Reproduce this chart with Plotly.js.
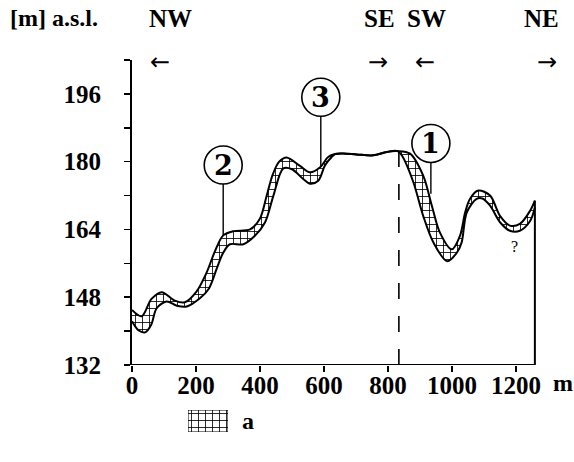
<!DOCTYPE html>
<html>
<head>
<meta charset="utf-8">
<script src="https://cdn.plot.ly/plotly-3.0.1.min.js"></script>
<style>html,body{margin:0;padding:0;background:#fff;}#chart{width:574px;height:462px;}</style>
</head>
<body>
<div id="chart"></div>
<script>
// Distance along profile [m] and elevation [m a.s.l.]
const upperX = [0, 30, 61, 93, 134, 165, 202, 233, 260, 285, 317, 369, 400, 421, 440, 460, 483, 525, 556, 588, 613, 635, 660, 702, 754, 796, 830, 869, 910, 937, 962, 999, 1025, 1041, 1056, 1082, 1119, 1150, 1181, 1212, 1244, 1259];
const upperY = [145.0, 143.5, 147.6, 149.2, 147.2, 146.8, 149.4, 153.8, 159.0, 162.6, 163.6, 164.0, 166.6, 172.0, 177.0, 180.0, 181.0, 179.0, 177.5, 178.7, 181.1, 181.8, 181.9, 181.7, 181.5, 182.3, 182.5, 181.9, 176.7, 169.6, 163.3, 159.3, 162.5, 168.0, 171.2, 173.2, 172.0, 167.2, 164.9, 165.3, 168.4, 170.8];
const lowerX = [0, 20, 41, 60, 77, 108, 140, 171, 213, 240, 265, 285, 306, 348, 384, 416, 442, 473, 500, 535, 556, 582, 603, 624, 635, 660, 702, 754, 796, 830, 843, 879, 910, 942, 985, 1015, 1030, 1046, 1077, 1095, 1119, 1150, 1181, 1212, 1244, 1259];
const lowerY = [142.3, 140.2, 139.7, 141.5, 145.4, 147.0, 146.0, 145.8, 147.8, 150.0, 154.8, 158.5, 160.5, 160.5, 162.5, 165.7, 172.0, 178.4, 178.2, 175.9, 174.8, 175.5, 179.1, 181.1, 181.8, 181.9, 181.7, 181.5, 182.3, 182.5, 181.5, 175.2, 167.2, 160.9, 156.5, 158.5, 160.9, 168.0, 171.2, 171.3, 169.6, 165.7, 163.7, 163.7, 166.0, 169.2];

const xTicks = [0, 200, 400, 600, 800, 1000, 1200];
const xTickText = ['0', '200', '400', '600', '800', '1000', '1200'];
const yTicks = [132, 148, 164, 180, 196];
const yMinor = [140, 156, 172, 188, 204];

// Markers: [label, x of leader, curve y, circle centre y]
const markerLabels = ['1', '2', '3'];
const markerX = [934, 285, 590];
const markerCurveY = [172.4, 162.6, 179.0];
const markerCircleY = [184.3, 179.2, 195.2];

const directions = ['NW', 'SE', 'SW', 'NE'];
const directionPx = [170, 379, 426, 541];
const arrows = ['←', '→', '←', '→'];
const arrowPx = [160, 378, 425, 547];

const W = 574, H = 462;
const serif = 'Liberation Serif, Times New Roman, serif';
const pattern = {shape: '+', size: 7, solidity: 0.22, fgcolor: '#000', bgcolor: '#fff'};

const traces = [
  {x: lowerX, y: lowerY, mode: 'lines', line: {color: '#000', width: 2, shape: 'spline', smoothing: 0.9}, showlegend: false, hoverinfo: 'skip'},
  {x: upperX, y: upperY, mode: 'lines', fill: 'tonexty', fillcolor: '#fff', fillpattern: pattern,
   line: {color: '#000', width: 2, shape: 'spline', smoothing: 0.9}, showlegend: false, hoverinfo: 'skip'},
  {x: [0, 1, 1, 0, 0], y: [0, 0, 1, 1, 0], xaxis: 'x2', yaxis: 'y2', mode: 'lines', fill: 'toself', fillcolor: '#fff',
   fillpattern: pattern, line: {color: '#000', width: 1}, showlegend: false, hoverinfo: 'skip', cliponaxis: false}
];

const px2x = p => p / W;
const px2y = p => 1 - p / H;

const shapes = [
  {type: 'line', xref: 'x', yref: 'y', x0: 0, x1: upperX[upperX.length - 1], y0: 132, y1: 132, line: {color: '#000', width: 2}},
  {type: 'line', xref: 'x', yref: 'y', x0: upperX[upperX.length - 1], x1: upperX[upperX.length - 1], y0: 132, y1: upperY[upperY.length - 1], line: {color: '#000', width: 2}},
  {type: 'line', xref: 'x', yref: 'y', x0: 834, x1: 834, y0: 132, y1: 182.3, line: {color: '#000', width: 1.6, dash: '16px,17px'}}
];
const annotations = [];
markerLabels.forEach((lab, i) => {
  shapes.push({type: 'circle', xref: 'x', yref: 'y', xsizemode: 'pixel', ysizemode: 'pixel',
    xanchor: markerX[i], yanchor: markerCircleY[i], x0: -19, x1: 19, y0: -19, y1: 19,
    line: {color: '#000', width: 1.6}, fillcolor: '#fff'});
  shapes.push({type: 'line', xref: 'x', yref: 'y', x0: markerX[i], x1: markerX[i],
    y0: markerCurveY[i], y1: markerCircleY[i] - 19 / 4.236, line: {color: '#000', width: 1.4}});
  annotations.push({x: markerX[i], y: markerCircleY[i], xref: 'x', yref: 'y', text: lab, showarrow: false,
    font: {family: 'DejaVu Serif', size: 27, color: '#000', weight: 700}, xanchor: 'center', yanchor: 'middle'});
});
const textFont = {family: serif, size: 24, color: '#000', weight: 700};
annotations.push({x: px2x(8), y: px2y(18), xref: 'paper', yref: 'paper', text: '[m] a.s.l.', showarrow: false,
  xanchor: 'left', yanchor: 'middle', font: textFont});
directions.forEach((d, i) => annotations.push({x: px2x(directionPx[i]), y: px2y(18), xref: 'paper', yref: 'paper', text: d,
  showarrow: false, xanchor: 'center', yanchor: 'middle', font: {family: serif, size: 25, color: '#000', weight: 700}}));
arrows.forEach((a, i) => annotations.push({x: px2x(arrowPx[i]), y: px2y(62), xref: 'paper', yref: 'paper', text: a,
  showarrow: false, xanchor: 'center', yanchor: 'middle', font: {family: 'DejaVu Sans', size: 24, color: '#000'}}));
annotations.push({x: px2x(563), y: px2y(383), xref: 'paper', yref: 'paper', text: 'm', showarrow: false,
  xanchor: 'center', yanchor: 'middle', font: textFont});
annotations.push({x: 1194, y: 160, xref: 'x', yref: 'y', text: '?', showarrow: false,
  xanchor: 'center', yanchor: 'middle', font: {family: serif, size: 16, color: '#000'}});
annotations.push({x: px2x(240), y: px2y(421), xref: 'paper', yref: 'paper', text: 'a', showarrow: false,
  xanchor: 'left', yanchor: 'middle', font: textFont});

const tickFont = {family: serif, size: 25, color: '#000', weight: 700};
const layout = {
  width: W, height: H,
  margin: {l: 0, r: 0, t: 0, b: 0},
  paper_bgcolor: '#fff', plot_bgcolor: 'rgba(0,0,0,0)',
  showlegend: false,
  xaxis: {domain: [132 / W, 548 / W], range: [0, 1300], tickvals: xTicks, ticktext: xTickText,
    ticks: 'outside', ticklen: 6, tickwidth: 1.5, tickcolor: '#000', showline: false, showgrid: false, zeroline: false,
    tickfont: tickFont, ticklabelstandoff: -8},
  yaxis: {domain: [1 - 365 / H, 1 - 60 / H], range: [132, 204], tickvals: yTicks,
    ticks: 'outside', ticklen: 6, tickwidth: 1.5, tickcolor: '#000', showline: true, linecolor: '#000', linewidth: 2,
    showgrid: false, zeroline: false, tickfont: tickFont, ticklabelstandoff: 18,
    minor: {tickvals: yMinor, ticks: 'outside', ticklen: 6, tickwidth: 1.5, tickcolor: '#000', showgrid: false}},
  xaxis2: {domain: [188 / W, 228 / W], range: [0, 1], visible: false, fixedrange: true},
  yaxis2: {domain: [1 - 432 / H, 1 - 410 / H], range: [0, 1], visible: false, fixedrange: true},
  shapes: shapes,
  annotations: annotations
};

Plotly.newPlot('chart', traces, layout, {staticPlot: true, displayModeBar: false});
</script>
</body>
</html>
